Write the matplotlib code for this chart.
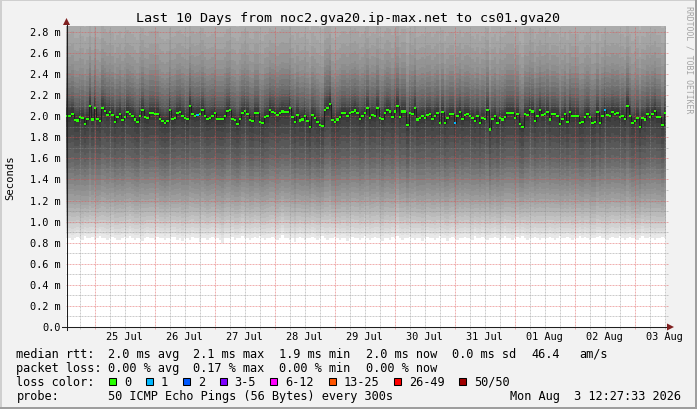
import numpy as np
import matplotlib
matplotlib.use("Agg")
import matplotlib.pyplot as plt
from matplotlib.patches import Rectangle, Polygon

W, H = 697, 410
MONO = "DejaVu Sans Mono"

title = "Last 10 Days from noc2.gva20.ip-max.net to cs01.gva20"
day_labels = ["25 Jul", "26 Jul", "27 Jul", "28 Jul", "29 Jul",
              "30 Jul", "31 Jul", "01 Aug", "02 Aug", "03 Aug"]
y_ticks = [0.0, 0.2, 0.4, 0.6, 0.8, 1.0, 1.2, 1.4, 1.6, 1.8, 2.0, 2.2, 2.4, 2.6, 2.8]
y_tick_labels = ["0.0", "0.2 m", "0.4 m", "0.6 m", "0.8 m", "1.0 m", "1.2 m", "1.4 m",
                 "1.6 m", "1.8 m", "2.0 m", "2.2 m", "2.4 m", "2.6 m", "2.8 m"]

# hourly median rtt (ms), from Jul 24 12:27 to Aug 3 12:27
median_ms = [
    2.005, 2.005, 2.025, 1.965, 1.96, 1.99, 1.985, 1.93, 1.975, 2.10, 1.97, 2.08,
    1.975, 1.955, 2.08, 2.05, 2.015, 2.04, 2.015, 1.945, 1.995, 2.025, 1.965, 1.995,
    2.04, 2.02, 2.005, 1.97, 1.945, 2.005, 2.06, 1.995, 1.985, 2.03, 2.03, 2.025,
    2.025, 1.975, 1.955, 1.935, 1.955, 2.06, 1.975, 1.985, 2.03, 2.04, 2.005, 1.985,
    1.975, 2.10, 2.025, 2.005, 2.015, 2.025, 2.06, 2.005, 1.975, 1.985,
    2.0, 2.03, 1.975, 1.975, 1.975, 2.0, 2.05, 2.06, 1.975, 1.965, 1.93, 1.975,
    2.03, 2.05, 2.025, 1.965, 1.955, 2.03, 2.03, 1.945, 1.935, 1.99, 2.0, 2.06,
    2.04, 2.03, 2.01, 2.03, 2.045, 2.04, 2.04, 2.08, 1.99, 1.945, 2.015, 1.96,
    1.97, 2.005, 1.955, 1.90, 2.01, 1.985, 1.945, 1.92, 1.91, 2.06, 2.08, 2.12,
    1.965, 1.945, 1.97, 1.99, 2.03, 2.03, 2.005, 2.03,
    2.04, 2.055, 2.03, 1.975, 2.0, 2.03, 2.08, 1.985, 2.015, 2.005, 2.08, 1.985,
    1.975, 2.03, 2.06, 2.045, 1.99, 2.045, 2.10, 1.995, 2.045, 2.045, 1.92, 2.03,
    2.02, 2.08, 1.97, 1.985, 2.0, 1.985, 2.015, 2.02, 1.975, 2.005, 2.03, 1.935,
    2.04, 1.935, 1.985, 2.02, 2.02, 1.935, 2.005, 2.04, 1.975, 2.015, 2.02, 2.0,
    1.985, 1.955, 2.0, 1.935, 1.985, 1.975, 2.06, 1.875, 1.975, 2.0, 1.935, 1.985,
    1.97, 1.995, 2.03,
    2.03, 2.03, 1.985, 2.02, 1.93, 1.90, 2.02, 2.015, 2.06, 2.045, 1.955, 2.005,
    2.06, 2.015, 2.02, 2.04, 1.97, 2.02, 2.02, 2.005, 1.93, 1.975, 2.02, 1.945,
    2.04, 2.005, 2.005, 2.005, 1.935, 1.945, 1.995, 2.02, 1.995, 1.935, 1.945, 2.04,
    1.935, 2.0, 2.06, 2.015, 2.005, 2.04, 2.02, 2.03, 1.995, 2.005, 1.975, 2.10,
    2.005, 1.935, 1.955, 1.985, 1.90, 1.98, 1.97, 2.02, 1.995, 2.02, 2.05, 1.995,
    1.995, 1.92, 2.03,
]

# lowest ping of each hour (bottom edge of the smoke)
floor_ms = [
    0.84, 0.84, 0.83, 0.84, 0.85, 0.84, 0.83, 0.86, 0.84, 0.84, 0.85, 0.83, 0.84, 0.86, 0.84, 0.84, 0.83, 0.84, 0.85, 0.84, 0.83, 0.83, 0.84, 0.85,
    0.84, 0.86, 0.84, 0.83, 0.84, 0.84, 0.82, 0.84, 0.85, 0.84, 0.84, 0.83, 0.85, 0.84, 0.84, 0.83, 0.84, 0.84, 0.85, 0.85, 0.83, 0.84, 0.82, 0.84,
    0.84, 0.83, 0.85, 0.84, 0.84, 0.81, 0.84, 0.84, 0.83, 0.84, 0.85, 0.84, 0.84, 0.83, 0.80, 0.84, 0.84, 0.84, 0.85, 0.83, 0.84, 0.84, 0.86, 0.84,
    0.84, 0.83, 0.84, 0.85, 0.84, 0.86, 0.84, 0.83, 0.84, 0.84, 0.85, 0.84, 0.83, 0.84, 0.87, 0.84, 0.84, 0.83, 0.84, 0.81, 0.84, 0.85, 0.84, 0.83,
    0.84, 0.84, 0.85, 0.84, 0.83, 0.84, 0.86, 0.84, 0.83, 0.84, 0.84, 0.85, 0.84, 0.83, 0.84, 0.84, 0.82, 0.84, 0.85, 0.84, 0.84, 0.83, 0.84, 0.86,
    0.84, 0.83, 0.84, 0.85, 0.84, 0.84, 0.82, 0.84, 0.84, 0.83, 0.85, 0.84, 0.86, 0.84, 0.83, 0.84, 0.84, 0.85, 0.84, 0.83, 0.84, 0.84, 0.82, 0.84,
    0.85, 0.84, 0.84, 0.83, 0.84, 0.86, 0.84, 0.84, 0.82, 0.84, 0.85, 0.84, 0.83, 0.84, 0.84, 0.85, 0.84, 0.84, 0.83, 0.86, 0.84, 0.84, 0.85, 0.84,
    0.83, 0.84, 0.84, 0.85, 0.84, 0.83, 0.84, 0.86, 0.84, 0.84, 0.83, 0.84, 0.85, 0.84, 0.86, 0.84, 0.83, 0.84, 0.84, 0.85, 0.84, 0.83, 0.84, 0.84,
    0.84, 0.85, 0.84, 0.83, 0.84, 0.86, 0.84, 0.84, 0.85, 0.84, 0.83, 0.84, 0.84, 0.86, 0.84, 0.85, 0.84, 0.83, 0.84, 0.84, 0.85, 0.86, 0.84, 0.84,
    0.83, 0.84, 0.85, 0.84, 0.84, 0.86, 0.84, 0.83, 0.84, 0.85, 0.84, 0.84, 0.83, 0.84, 0.86, 0.84, 0.84, 0.85, 0.84, 0.83, 0.84, 0.84, 0.85, 0.84,
]

# typical sorted 50 pings (ms) of an hour whose median is 2.0 ms
typical_pings = [
    0.83, 0.87, 0.90, 0.93, 0.97, 1.00, 1.04, 1.08, 1.12, 1.16,
    1.20, 1.25, 1.30, 1.35, 1.40, 1.45, 1.50, 1.55, 1.60, 1.67,
    1.74, 1.80, 1.88, 1.94, 1.98, 2.02, 2.05, 2.07, 2.09, 2.11,
    2.14, 2.17, 2.21, 2.26, 2.31, 2.36, 2.41, 2.47, 2.56, 2.66,
    2.78, 2.92, 3.05, 3.20, 3.40, 3.60, 3.90, 4.30, 4.80, 5.60,
]

# hours with lost pings: hour index -> lost pings
lost_pings = {52: 1, 155: 1, 215: 1}

loss_names = ["0", "1", "2", "3-5", "6-12", "13-25", "26-49", "50/50"]
loss_colors = ["#26ff00", "#00b8ff", "#0059ff", "#7e00ff", "#ff00ff", "#ff5500", "#ff0000", "#a10000"]
loss_x = [109, 146, 183, 219.5, 270, 328.5, 394, 459]

median_stats = [("2.0 ms avg", 107.7), ("2.1 ms max", 193.3), ("1.9 ms min", 279.3),
                ("2.0 ms now", 365.7), ("0.0 ms sd", 451.7), ("46.4", 531), ("am/s", 579.3)]
loss_stats = [("0.00 % avg", 107.7), ("0.17 % max", 193.3), ("0.00 % min", 279.3),
              ("0.00 % now", 365.7)]
probe_text = "50 ICMP Echo Pings (56 Bytes) every 300s"
stamp_text = "Mon Aug  3 12:27:33 2026"

# hours relative to Jul 25 00:00
x_start, x_end = -11.55, 228.45
px_left, px_top, px_bottom = 66, 27, 328
px_per_h = 2.5
px_per_ms = 105.36
y_top = (px_bottom - px_top) / px_per_ms


def px2x(px):
    return x_start + (px - px_left) / px_per_h


def py2y(py):
    return (px_bottom - py) / px_per_ms


fig = plt.figure(figsize=(W / 100, H / 100), dpi=100, facecolor="#f2f2f2")
ax = fig.add_axes([px_left / W, (H - px_bottom) / H, 600 / W, (px_bottom - px_top) / H])
ax.set_xlim(x_start, x_end)
ax.set_ylim(0, y_top)
ax.set_facecolor("white")
for s in ax.spines.values():
    s.set_visible(False)
ax.set_xticks([])
ax.set_yticks([])

med = np.array(median_ms)
flo = np.array(floor_ms)
typ = np.array(typical_pings)
n = len(med)
step = (x_end - x_start) / n
edges = x_start + np.arange(n + 1) * step

# quantiles for every hour: lower half scaled between floor and median,
# upper half shifted with the median
q = np.empty((50, n))
for k in range(50):
    if k < 25:
        q[k] = flo + (typ[k] - typ[0]) / (2.0 - typ[0]) * (med - flo)
    else:
        q[k] = med + (typ[k] - 2.0)

# smoke, outer pairs light, inner pairs dark
half = 25
for i in range(1, half + 1):
    g = int(190 / half * (half - i)) + 50
    col = "#%02x%02x%02x" % (g, g, g)
    lo = np.append(q[i - 1], q[i - 1][-1])
    hi = np.append(q[50 - i], q[50 - i][-1])
    ax.fill_between(edges, lo, hi, step="post", color=col, lw=0, zorder=1)

# grid
dots = (0, (2, 1))
xr = px2x(669)
for v in np.arange(0.1, 2.85, 0.1):
    major = round(v * 10) % 2 == 0
    ax.plot([x_start, xr], [v, v], color="#de5050" if major else "#8f8f8f",
            alpha=0.45 if major else 0.45, lw=0.72, ls=dots, zorder=2, clip_on=False)
for h in np.arange(-6, x_end, 6):
    major = h % 24 == 0
    ax.plot([h, h], [py2y(330), y_top], color="#de5050" if major else "#8f8f8f",
            alpha=0.45 if major else 0.45, lw=0.72, ls=dots, zorder=2, clip_on=False)

# median line and loss coloured markers
ax.step(edges, np.append(med, med[-1]), where="post", color="#202020", lw=0.75, zorder=3)
mcols = []
for k in range(n):
    lost = lost_pings.get(k, 0)
    mcols.append(loss_colors[1] if lost == 1 else loss_colors[0])
ax.bar(edges[:-1], 0.021, width=step, bottom=med - 0.0105, align="edge",
       color=mcols, lw=0, zorder=4)

# axes lines and arrows
ax.plot([px2x(62), px2x(668)], [0, 0], color="#1f1f1f", lw=0.75, zorder=5, clip_on=False)
ax.plot([px2x(66.5), px2x(66.5)], [py2y(331), py2y(24)], color="#1f1f1f", lw=0.75,
        zorder=5, clip_on=False)
ax.add_patch(Polygon([[px2x(667), py2y(324.5)], [px2x(674), py2y(328)], [px2x(667), py2y(331.5)]],
                     closed=True, color="#7f1f1f", lw=0, zorder=6, clip_on=False))
ax.add_patch(Polygon([[px2x(63), py2y(26)], [px2x(66.5), py2y(19)], [px2x(70), py2y(26)]],
                     closed=True, color="#7f1f1f", lw=0, zorder=6, clip_on=False))


def ftext(x, y, s, **kw):
    kw.setdefault("family", MONO)
    kw.setdefault("color", "black")
    return fig.text(x / W, 1 - y / H, s, **kw)


ftext(348.5, 18.5, title, fontsize=9.6, ha="center", va="center")

for v, lab in zip(y_ticks, y_tick_labels):
    ftext(60.5, px_bottom - v * px_per_ms, lab, fontsize=7.4, ha="right", va="center")

for d, lab in enumerate(day_labels):
    xp = px_left + (12 + 24 * d - x_start) * px_per_h
    ftext(xp, 337.5, lab, fontsize=7.4, ha="center", va="center")

ftext(10, 177.5, "Seconds", fontsize=7.6, ha="center", va="center", rotation=90)
ftext(688.5, 60, "RRDTOOL / TOBI OETIKER", fontsize=5.9, ha="center", va="center",
      rotation=270, color="#a4a4a4")

# legend
rows = [354.5, 368.3, 382.3, 396.3]
lfs = 8.6
ftext(16.5, rows[0], "median rtt:", fontsize=lfs, va="center")
for s, xp in median_stats:
    ftext(xp, rows[0], s, fontsize=lfs, va="center")
ftext(16.5, rows[1], "packet loss:", fontsize=lfs, va="center")
for s, xp in loss_stats:
    ftext(xp, rows[1], s, fontsize=lfs, va="center")
ftext(16.5, rows[2], "loss color:", fontsize=lfs, va="center")
for name, col, xp in zip(loss_names, loss_colors, loss_x):
    fig.add_artist(Rectangle((xp / W, 1 - (rows[2] + 3.5) / H), 7 / W, 7 / H,
                             transform=fig.transFigure, facecolor=col,
                             edgecolor="black", lw=0.75))
    ftext(xp + 15, rows[2], name, fontsize=lfs, va="center")
ftext(16.5, rows[3], "probe:", fontsize=lfs, va="center")
ftext(107.7, rows[3], probe_text, fontsize=lfs, va="center")
ftext(681, rows[3], stamp_text, fontsize=lfs, va="center", ha="right")

# 3d frame
fig.add_artist(Rectangle((0, 1 - 2 / H), 1, 2 / H, transform=fig.transFigure,
                         color="#cfcfcf", lw=0))
fig.add_artist(Rectangle((0, 0), 2 / W, 1, transform=fig.transFigure,
                         color="#cfcfcf", lw=0))
fig.add_artist(Rectangle((1 - 2 / W, 0), 2 / W, 1, transform=fig.transFigure,
                         color="#9e9e9e", lw=0))
fig.add_artist(Rectangle((0, 0), 1, 2 / H, transform=fig.transFigure,
                         color="#9e9e9e", lw=0))

fig.savefig("out.png", dpi=100, facecolor=fig.get_facecolor())
